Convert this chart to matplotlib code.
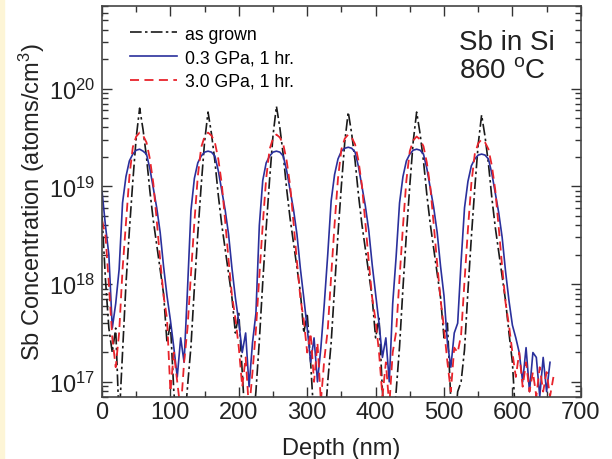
import numpy as np
import matplotlib
matplotlib.use('Agg')
import matplotlib.pyplot as plt
from matplotlib.ticker import MultipleLocator, LogLocator, NullFormatter
from matplotlib.patches import Rectangle

plt.rcParams['font.family'] = ['Liberation Sans', 'DejaVu Sans']
plt.rcParams['mathtext.fontset'] = 'custom'
plt.rcParams['mathtext.rm'] = 'Liberation Sans'
plt.rcParams['mathtext.it'] = 'Liberation Sans:italic'

# SIMS profiles, depth sampled every 5 nm starting at 0
# values are log10 of Sb concentration (atoms/cm3), read off the picture
step_nm = 5

as_grown_log = [
    18.7, 18.05, 17.55, 17.3, 17.55, 16.6, 17.3, 18.0, 18.55, 19.05, 19.5, 19.8, 19.58, 19.3, 18.95, 18.65, 18.4, 18.15, 17.9, 17.4,
    17.6, 16.9, 16.5, 16.6, 16.5, 16.95, 17.36, 17.96, 18.51, 19.01, 19.46, 19.76, 19.54, 19.26, 18.91, 18.61, 18.36, 18.11, 17.86, 17.5,
    17.7, 17.1, 16.5, 16.6, 16.5, 16.9, 17.42, 18.02, 18.57, 19.07, 19.52, 19.82, 19.6, 19.32, 18.97, 18.67, 18.42, 18.17, 17.92, 17.5,
    17.7, 17.2, 16.6, 16.5, 16.6, 16.5, 17.0, 17.4, 17.96, 18.51, 19.01, 19.46, 19.76, 19.54, 19.26, 18.91, 18.61, 18.36, 18.11, 17.86,
    17.45, 17.65, 16.9, 16.5, 16.6, 16.5, 16.9, 17.36, 17.96, 18.51, 19.01, 19.46, 19.76, 19.54, 19.26, 18.91, 18.61, 18.36, 18.11, 17.86,
    17.45, 17.6, 16.8, 16.5, 16.9, 17.0, 17.33, 17.93, 18.48, 18.98, 19.43, 19.73, 19.51, 19.23, 18.88, 18.58, 18.33, 18.08, 17.83, 17.5,
    17.2, 16.6,
]

gpa_03_log = [
    18.95, 18.6, 18.3, 17.55, 17.8, 18.15, 18.83, 19.10, 19.26, 19.33, 19.37, 19.38, 19.36, 19.33, 19.18, 18.98, 18.78, 18.53, 18.18, 17.88,
    17.63, 17.35, 17.05, 17.45, 17.2, 17.95, 18.75, 19.08, 19.24, 19.31, 19.35, 19.36, 19.35, 19.31, 19.16, 18.96, 18.76, 18.51, 18.16, 17.86,
    17.61, 17.3, 17.5, 16.95, 17.4, 17.7, 18.6, 19.06, 19.24, 19.31, 19.35, 19.36, 19.35, 19.31, 19.16, 18.96, 18.76, 18.51, 18.16, 17.86,
    17.55, 17.2, 17.45, 17.0, 17.35, 17.8, 18.3, 18.85, 19.12, 19.28, 19.36, 19.39, 19.40, 19.39, 19.35, 19.2, 19.0, 18.8, 18.55, 18.2,
    17.9, 17.6, 17.25, 17.45, 17.0, 17.8, 18.28, 18.83, 19.1, 19.26, 19.33, 19.37, 19.38, 19.37, 19.33, 19.18, 18.98, 18.78, 18.53, 18.18,
    17.88, 17.4, 17.15, 17.5, 17.6, 18.23, 18.78, 19.05, 19.21, 19.28, 19.32, 19.33, 19.32, 19.28, 19.13, 18.93, 18.73, 18.48, 18.13, 17.83,
    17.58, 17.45, 17.3, 17.0, 17.35, 16.9, 17.3, 17.25, 16.85, 17.25, 16.9, 17.2,
]

gpa_30_log = [
    18.65, 18.5, 18.0, 17.45, 17.15, 17.5, 18.15, 18.63, 19.1, 19.4, 19.51, 19.55, 19.52, 19.45, 19.28, 19.03, 18.65, 18.25, 17.88, 17.65,
    16.9, 17.3, 17.0, 16.7, 17.2, 17.55, 18.1, 18.63, 19.1, 19.4, 19.51, 19.55, 19.52, 19.45, 19.28, 19.03, 18.65, 18.25, 17.88, 17.65,
    17.35, 16.95, 17.25, 16.7, 17.1, 17.53, 18.08, 18.61, 19.08, 19.38, 19.49, 19.53, 19.50, 19.43, 19.26, 19.01, 18.63, 18.23, 17.86, 17.63,
    17.3, 17.5, 17.0, 17.4, 16.8, 17.23, 17.53, 18.08, 18.61, 19.08, 19.38, 19.49, 19.53, 19.50, 19.43, 19.26, 19.01, 18.63, 18.23, 17.86,
    17.63, 17.3, 16.85, 17.2, 16.75, 17.3, 17.51, 18.06, 18.59, 19.06, 19.36, 19.47, 19.51, 19.48, 19.41, 19.24, 18.99, 18.61, 18.21, 17.84,
    17.55, 17.2, 16.9, 17.35, 17.3, 17.48, 18.03, 18.56, 19.03, 19.33, 19.44, 19.48, 19.45, 19.38, 19.21, 18.96, 18.58, 18.18, 17.81, 17.58,
    17.3, 17.05, 17.3, 16.95, 17.2, 16.9, 17.1, 16.85, 17.15, 16.9, 17.1, 16.85, 17.05,
]

labels = ['as grown', '0.3 GPa, 1 hr.', '3.0 GPa, 1 hr.']


def to_xy(logvals):
    x = np.arange(len(logvals)) * step_nm
    y = 10.0 ** np.array(logvals)
    return x, y


fig = plt.figure(figsize=(6.12, 4.6), dpi=100)
fig.patches.append(Rectangle((0, 0), 0.006, 1, transform=fig.transFigure,
                             color='#fdf5d6', zorder=-1))
ax = fig.add_axes([0.1667, 0.1348, 0.7823, 0.85])

x, y = to_xy(as_grown_log)
ax.plot(x, y, color='#1a1a1a', lw=1.2, ls=(0, (7, 2, 1.5, 2)), label=labels[0])
x, y = to_xy(gpa_03_log)
ax.plot(x, y, color='#2a309c', lw=1.2, label=labels[1])
x, y = to_xy(gpa_30_log)
ax.plot(x, y, color='#e8232b', lw=1.3, ls=(0, (5, 3)), label=labels[2])

ax.set_yscale('log')
ax.set_xlim(0, 700)
ax.set_ylim(7e16, 7e20)
ax.xaxis.set_major_locator(MultipleLocator(100))
ax.xaxis.set_minor_locator(MultipleLocator(50))
ax.yaxis.set_major_locator(LogLocator(base=10, numticks=10))
ax.yaxis.set_minor_locator(LogLocator(base=10, subs=np.arange(2, 10), numticks=20))
ax.yaxis.set_minor_formatter(NullFormatter())

ax.tick_params(which='both', direction='in', top=True, right=True,
               colors='#333333', labelcolor='#222222', width=1)
ax.tick_params(which='major', length=7, labelsize=17)
ax.tick_params(which='minor', length=4)
ax.tick_params(axis='x', pad=3)
ax.tick_params(axis='y', pad=5)
for s in ax.spines.values():
    s.set_color('#444444')
    s.set_linewidth(1.2)

ax.set_xlabel('Depth (nm)', fontsize=17, color='#222222', labelpad=10)
ax.set_ylabel('Sb Concentration (atoms/cm$^3$)', fontsize=17, color='#222222', labelpad=1)

ax.text(0.745, 0.94, 'Sb in Si\n860 $^{\\mathrm{o}}$C', transform=ax.transAxes,
        fontsize=20, color='#222222', ha='left', va='top', linespacing=1.1)

ax.legend(loc='upper left', bbox_to_anchor=(0.058, 0.95), frameon=False,
          fontsize=12.7, handlelength=2.7, handletextpad=0.45,
          labelspacing=0.38, borderpad=0, borderaxespad=0)

fig.savefig('out.png', dpi=100)
